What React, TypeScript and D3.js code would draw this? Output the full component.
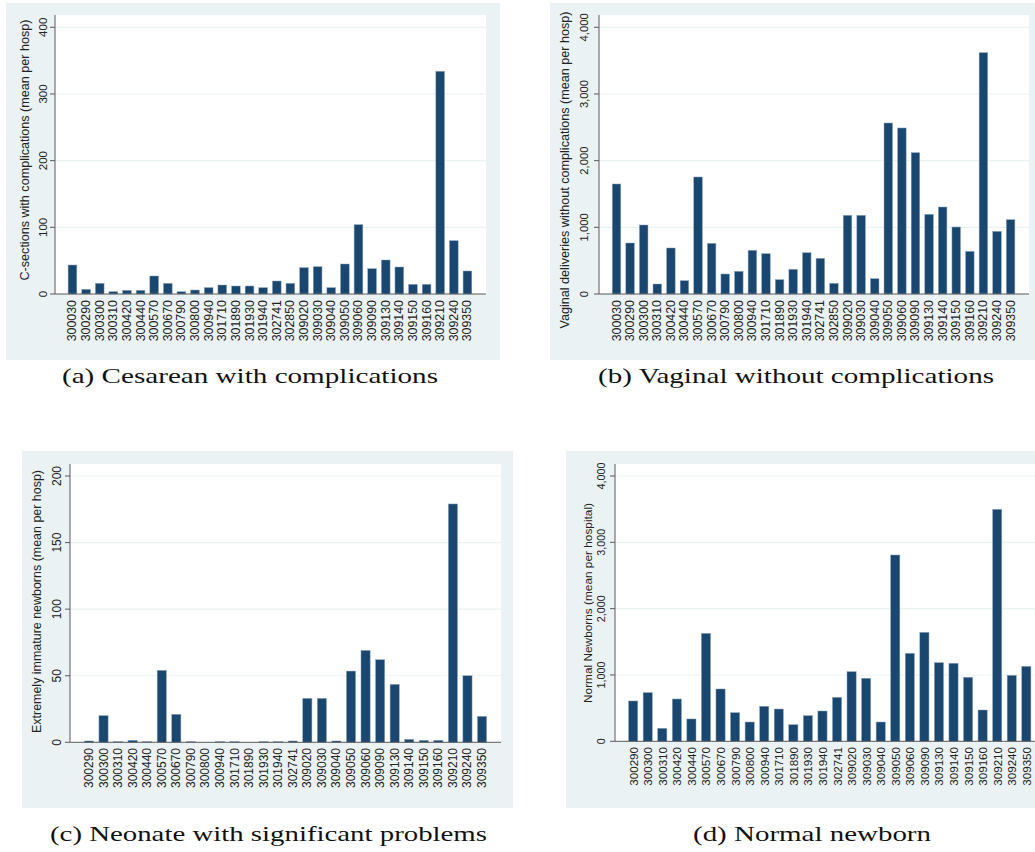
import React from 'react';
import * as d3 from 'd3';

// ---------- DATA ----------
const hospitalsAB = [
  '300030', '300290', '300300', '300310', '300420', '300440', '300570', '300670',
  '300790', '300800', '300940', '301710', '301890', '301930', '301940', '302741',
  '302850', '309020', '309030', '309040', '309050', '309060', '309090', '309130',
  '309140', '309150', '309160', '309210', '309240', '309350',
];
const cesareanValues = [
  43.5, 7, 16, 3.5, 5.5, 5.5, 27, 16, 3.5, 6, 9.5, 13.5, 12, 12, 9.5, 19.5,
  16, 39.5, 41, 9.5, 45, 104, 38, 51, 40.5, 14.5, 14.5, 334, 80, 34.5,
];
const vaginalValues = [
  1650, 765, 1035, 150, 690, 200, 1755, 760, 300, 340, 655, 605, 215, 370, 620, 535,
  160, 1180, 1180, 230, 2565, 2490, 2120, 1195, 1305, 1005, 640, 3620, 940, 1115,
];
const hospitalsCD = [
  '300290', '300300', '300310', '300420', '300440', '300570', '300670', '300790',
  '300800', '300940', '301710', '301890', '301930', '301940', '302741', '309020',
  '309030', '309040', '309050', '309060', '309090', '309130', '309140', '309150',
  '309160', '309210', '309240', '309350',
];
const neonateValues = [
  1, 20, 0.5, 1.5, 0.5, 54, 21, 0.5, 0, 0.5, 0.5, 0, 0.5, 0.5, 1, 33,
  33, 1, 53.5, 69, 62, 43.5, 2.2, 1.5, 1.5, 179, 50, 19.5,
];
const newbornValues = [
  608, 734, 196, 638, 337, 1628, 789, 432, 291, 528, 487, 251, 387, 457, 663, 1050,
  950, 291, 2809, 1327, 1643, 1186, 1176, 965, 472, 3497, 995, 1131,
];
const ticksA = [0, 100, 200, 300, 400];
const ticksB = [0, 1000, 2000, 3000, 4000];
const ticksC = [0, 50, 100, 150, 200];
const ticksD = [0, 1000, 2000, 3000, 4000];
const yTitles = [
  'C-sections with complications (mean per hosp)',
  'Vaginal deliveries without complications (mean per hosp)',
  'Extremely immature newborns (mean per hosp)',
  'Normal Newborns (mean per hospital)',
];
const captions = [
  '(a) Cesarean with complications',
  '(b) Vaginal without complications',
  '(c) Neonate with significant problems',
  '(d) Normal newborn',
];

// ---------- LAYOUT ----------
const BG = '#eaf2f3';
const BAR = '#1a476f';
const SANS = '"Liberation Sans", Arial, sans-serif';
const SERIF = '"Liberation Serif", "DejaVu Serif", serif';

type Layout = {
  bg: [number, number, number, number];
  plot: [number, number, number, number];
  band: [number, number];
  pad: number;
  y0: number;
  yTop: number;
  tickLabelX: number;
  titleX: number;
  titleY: number;
  titleLen: number;
  labelTop: number;
  capX: number;
  capY: number;
  capLen: number;
  tickFont: number;
  xFont: number;
  titleFont: number;
};

const layouts: Layout[] = [
  { bg: [6, 3, 494, 357], plot: [55, 15, 486, 294], band: [63.2, 476.7], pad: 0.36, y0: 294, yTop: 27.3,
    tickLabelX: 42.5, titleX: 25, titleY: 150, titleLen: 261, labelTop: 300, capX: 250, capY: 383, capLen: 376,
    tickFont: 11.5, xFont: 12.4, titleFont: 12.4 },
  { bg: [550, 3, 500, 357], plot: [599, 15, 1029, 294], band: [607.2, 1019.9], pad: 0.37, y0: 294, yTop: 27.3,
    tickLabelX: 583.5, titleX: 565, titleY: 170, titleLen: 317, labelTop: 300, capX: 796, capY: 383, capLen: 396,
    tickFont: 11.3, xFont: 12.4, titleFont: 12 },
  { bg: [22, 451, 491, 357], plot: [70, 464, 501, 742.3], band: [79.0, 492], pad: 0.37, y0: 742.3, yTop: 476,
    tickLabelX: 57, titleX: 37, titleY: 601.5, titleLen: 263, labelTop: 748, capX: 268.5, capY: 841, capLen: 437,
    tickFont: 12, xFont: 12, titleFont: 12.4 },
  { bg: [566, 451, 500, 357], plot: [615, 464, 1060, 741.3], band: [623.2, 1036.3], pad: 0.37, y0: 741.3, yTop: 476,
    tickLabelX: 601, titleX: 587, titleY: 603, titleLen: 200, labelTop: 747, capX: 812, capY: 841, capLen: 238,
    tickFont: 10.8, xFont: 11.6, titleFont: 11.6 },
];

const fmt = d3.format(',');

function Panel(props: {
  cats: string[];
  values: number[];
  ticks: number[];
  title: string;
  caption: string;
  L: Layout;
}) {
  const { cats, values, ticks, title, caption, L } = props;
  const x = d3.scaleBand<string>().domain(cats).range(L.band).padding(L.pad);
  const y = d3
    .scaleLinear()
    .domain([ticks[0], ticks[ticks.length - 1]])
    .range([L.y0, L.yTop]);
  const [px0, py0, px1, py1] = L.plot;
  return (
    <g>
      <rect x={L.bg[0]} y={L.bg[1]} width={L.bg[2]} height={L.bg[3]} fill={BG} />
      <rect x={px0} y={py0} width={px1 - px0} height={py1 - py0} fill="#ffffff" />
      {ticks.slice(1).map((t) => (
        <line key={'g' + t} x1={px0} x2={px1} y1={y(t)} y2={y(t)} stroke={BG} strokeWidth={1.2} />
      ))}
      {cats.map((c, i) => {
        const v = values[i];
        const top = y(v);
        return (
          <rect
            key={c}
            x={x(c)}
            y={top}
            width={x.bandwidth()}
            height={Math.max(0, L.y0 - top)}
            fill={BAR}
            stroke="#8ea6bd"
            strokeWidth={0.5}
          />
        );
      })}
      <line x1={px0} x2={px0} y1={py0} y2={L.y0} stroke="#5a5a5a" strokeWidth={1} />
      <line x1={px0} x2={px1} y1={L.y0} y2={L.y0} stroke="#5a5a5a" strokeWidth={1} />
      {ticks.map((t) => (
        <g key={'t' + t}>
          <line x1={px0 - 5} x2={px0} y1={y(t)} y2={y(t)} stroke="#5a5a5a" strokeWidth={1} />
          <text
            transform={`translate(${L.tickLabelX},${y(t)}) rotate(-90)`}
            textAnchor="middle"
            dominantBaseline="central"
            fontFamily={SANS}
            fontSize={L.tickFont}
            fill="#222"
          >
            {fmt(t)}
          </text>
        </g>
      ))}
      <text
        transform={`translate(${L.titleX},${L.titleY}) rotate(-90)`}
        textAnchor="middle"
        dominantBaseline="central"
        fontFamily={SANS}
        fontSize={L.titleFont}
        textLength={L.titleLen}
        lengthAdjust="spacingAndGlyphs"
        fill="#222"
      >
        {title}
      </text>
      {cats.map((c) => (
        <text
          key={'x' + c}
          transform={`translate(${(x(c) as number) + x.bandwidth() / 2},${L.labelTop}) rotate(-90)`}
          textAnchor="end"
          dominantBaseline="central"
          fontFamily={SANS}
          fontSize={L.xFont}
          fill="#222"
        >
          {c}
        </text>
      ))}
      <text
        x={L.capX}
        y={L.capY}
        textAnchor="middle"
        fontFamily={SERIF}
        fontSize={22}
        textLength={L.capLen}
        lengthAdjust="spacingAndGlyphs"
        fill="#111"
      >
        {caption}
      </text>
    </g>
  );
}

export default function App() {
  const panels = [
    { cats: hospitalsAB, values: cesareanValues, ticks: ticksA },
    { cats: hospitalsAB, values: vaginalValues, ticks: ticksB },
    { cats: hospitalsCD, values: neonateValues, ticks: ticksC },
    { cats: hospitalsCD, values: newbornValues, ticks: ticksD },
  ];
  return (
    <svg
      width={1035}
      height={852}
      viewBox="0 0 1035 852"
      style={{ position: 'absolute', left: 0, top: 0, background: '#ffffff' }}
    >
      <rect x={0} y={0} width={1035} height={852} fill="#ffffff" />
      {panels.map((p, i) => (
        <Panel
          key={i}
          cats={p.cats}
          values={p.values}
          ticks={p.ticks}
          title={yTitles[i]}
          caption={captions[i]}
          L={layouts[i]}
        />
      ))}
    </svg>
  );
}
